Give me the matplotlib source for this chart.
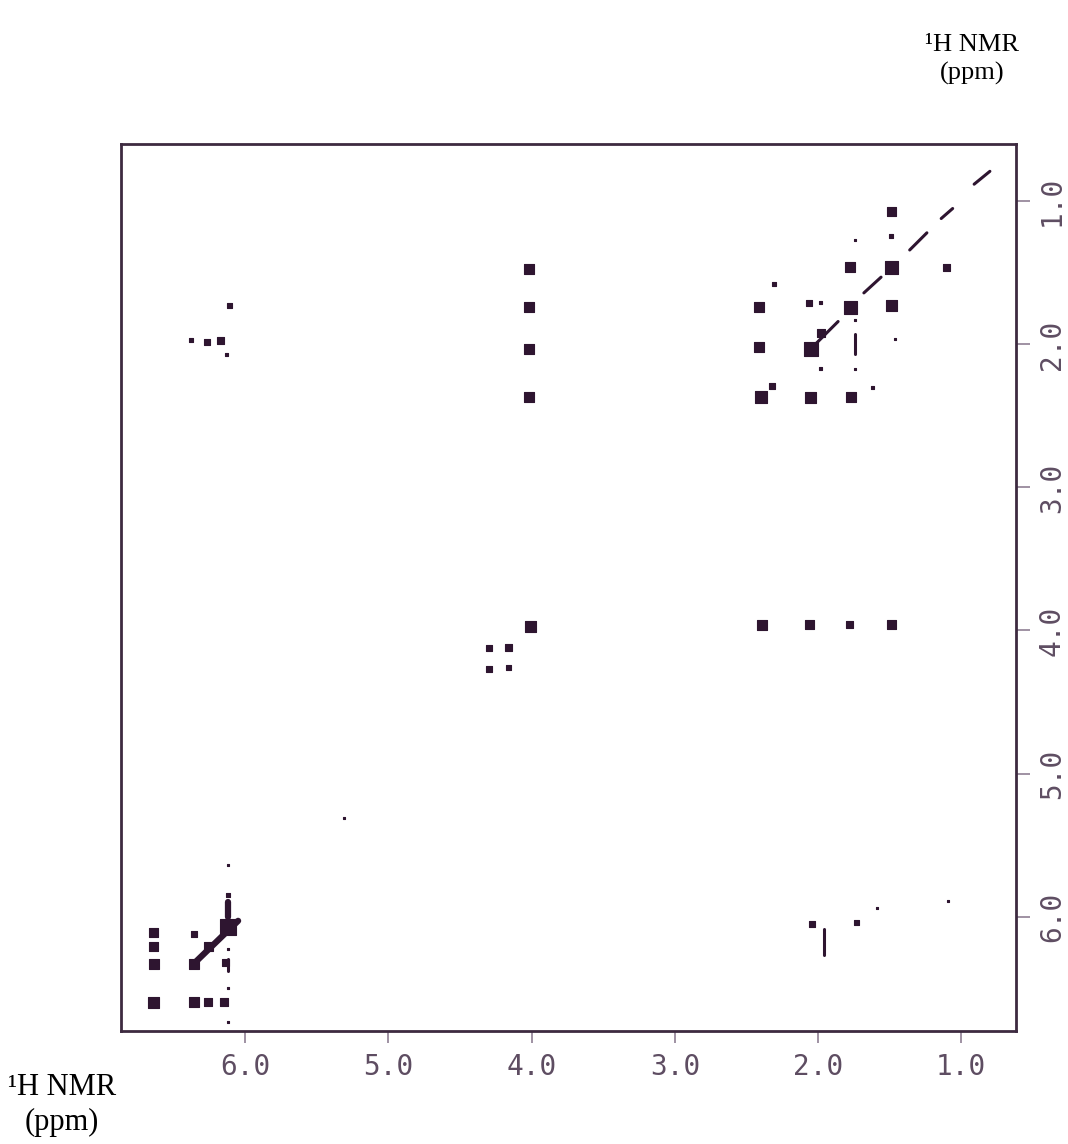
import numpy as np
import matplotlib
matplotlib.use('Agg')
import matplotlib.pyplot as plt

# COSY cross / diagonal peaks: (F2 ppm, F1 ppm, relative intensity)
peak_x = [1.49, 1.49, 1.74, 1.78, 1.49, 1.10, 2.31, 2.41, 2.06, 1.98, 1.77, 1.49,
          1.74, 1.98, 2.41, 2.05, 1.46, 1.98, 1.74, 1.62, 2.40, 2.32, 2.05, 1.77,
          4.02, 4.02, 4.02, 4.02, 4.01, 4.30, 4.16, 4.30, 4.16,
          2.39, 2.06, 1.78, 1.49,
          6.11, 6.38, 6.27, 6.17, 6.13,
          6.12, 6.12, 6.12, 6.12, 6.26, 6.36, 6.64, 6.64, 6.64, 6.36, 6.14, 6.12,
          6.12, 6.64, 6.36, 6.26, 6.15, 6.12,
          2.04, 1.73, 1.09, 5.31, 1.59]
peak_y = [1.07, 1.24, 1.27, 1.46, 1.46, 1.46, 1.58, 1.74, 1.71, 1.71, 1.74, 1.73,
          1.83, 1.92, 2.02, 2.03, 1.96, 2.17, 2.17, 2.30, 2.37, 2.29, 2.37, 2.37,
          1.47, 1.74, 2.03, 2.37, 3.97, 4.12, 4.12, 4.27, 4.26,
          3.96, 3.96, 3.96, 3.96,
          1.73, 1.97, 1.98, 1.97, 2.07,
          5.64, 5.85, 5.96, 6.07, 6.21, 6.12, 6.11, 6.21, 6.33, 6.33, 6.32, 6.23,
          6.50, 6.60, 6.60, 6.60, 6.60, 6.74,
          6.05, 6.04, 5.89, 5.31, 5.94]
peak_int = [9, 4, 2, 10, 13, 7, 4, 10, 6, 3, 13, 11,
            2, 8, 10, 14, 2, 3, 2, 3, 12, 6, 11, 10,
            10, 10, 10, 10, 11, 6, 7, 6, 5,
            10, 9, 7, 9,
            5, 4, 6, 7, 3,
            2, 4, 2, 16, 9, 6, 9, 9, 10, 10, 7, 2,
            2, 11, 10, 8, 8, 2,
            6, 5, 2, 2, 2]

# streaks along the diagonal and vertical t1-noise ridges: (x0, y0, x1, y1)
streak_x0 = [6.36, 2.05, 1.68, 1.36, 1.14, 0.91, 1.74, 1.96, 6.12, 6.12]
streak_y0 = [6.33, 2.03, 1.64, 1.34, 1.12, 0.88, 1.93, 6.09, 6.30, 5.90]
streak_x1 = [6.05, 1.86, 1.56, 1.24, 1.06, 0.80, 1.74, 1.96, 6.12, 6.12]
streak_y1 = [6.03, 1.84, 1.53, 1.22, 1.05, 0.79, 2.07, 6.27, 6.38, 6.00]

xticks = [6.0, 5.0, 4.0, 3.0, 2.0, 1.0]
yticks = [1.0, 2.0, 3.0, 4.0, 5.0, 6.0]
axis_label = '¹H NMR\n(ppm)'

ink = '#2e1530'
frame = '#3d2a40'
tick_col = '#85748a'

fig = plt.figure(figsize=(10.68, 11.44), dpi=100)
ax = fig.add_axes([0.113, 0.0988, 0.838, 0.7752])

# contour "blobs" as square marks, side ~ intensity in pixels
side_pt = np.array(peak_int) * 0.72
ax.scatter(peak_x, peak_y, s=side_pt ** 2, marker='s', color=ink,
           edgecolors=ink, linewidths=0.8, zorder=3)

for x0, y0, x1, y1 in zip(streak_x0, streak_y0, streak_x1, streak_y1):
    lw = 4.5 if x0 > 6 and y1 < 6.1 else 2.2
    ax.plot([x0, x1], [y0, y1], color=ink, lw=lw, solid_capstyle='round', zorder=3)

ax.set_xlim(6.87, 0.62)
ax.set_ylim(6.80, 0.60)

ax.set_xticks(xticks)
ax.set_xticklabels([f'{t:.1f}' for t in xticks])
ax.set_yticks(yticks)
ax.set_yticklabels([f'{t:.1f}' for t in yticks])
ax.yaxis.tick_right()

ax.tick_params(axis='x', direction='out', length=8.6, width=1.1, color=tick_col,
               pad=7, labelsize=20, labelcolor='#5e4d62')
ax.tick_params(axis='y', direction='out', length=10, width=1.1, color=tick_col,
               pad=6, labelsize=20, labelcolor='#5e4d62', labelrotation=90)
for lab in ax.get_xticklabels() + ax.get_yticklabels():
    lab.set_family('DejaVu Sans Mono')
for lab in ax.get_yticklabels():
    lab.set_va('center')

for sp in ax.spines.values():
    sp.set_color(frame)
    sp.set_linewidth(2.0)

fig.text(0.910, 0.948, axis_label, ha='center', va='center', family='Liberation Serif',
         fontsize=19, color='black', linespacing=1.35)
fig.text(0.058, 0.034, axis_label, ha='center', va='center', family='Liberation Serif',
         fontsize=22, color='black', linespacing=1.3)

fig.savefig('out.png', dpi=100)
